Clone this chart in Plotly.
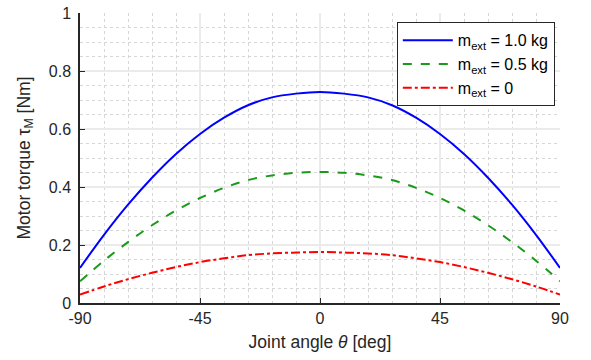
import plotly.graph_objects as go

# Joint angle samples (deg)
theta = [-90, -81, -72, -63, -54, -45, -36, -27, -18, -9, 0,
         9, 18, 27, 36, 45, 54, 63, 72, 81, 90]

# Motor torque (Nm)
tau_1kg = [0.121, 0.235, 0.339, 0.432, 0.514, 0.583, 0.639, 0.682, 0.709, 0.722, 0.728,
           0.722, 0.709, 0.682, 0.639, 0.583, 0.514, 0.432, 0.339, 0.235, 0.121]
tau_05kg = [0.075, 0.146, 0.210, 0.268, 0.319, 0.362, 0.397, 0.424, 0.440, 0.449, 0.452,
            0.449, 0.440, 0.424, 0.397, 0.362, 0.319, 0.268, 0.210, 0.146, 0.075]
tau_0 = [0.029, 0.057, 0.082, 0.104, 0.124, 0.141, 0.154, 0.165, 0.171, 0.174, 0.176,
         0.174, 0.171, 0.165, 0.154, 0.141, 0.124, 0.104, 0.082, 0.057, 0.029]

series_names = ["m<sub>ext</sub> = 1.0 kg", "m<sub>ext</sub> = 0.5 kg", "m<sub>ext</sub> = 0"]
x_tickvals = [-90, -45, 0, 45, 90]
x_ticktext = ["-90", "-45", "0", "45", "90"]
y_tickvals = [0, 0.2, 0.4, 0.6, 0.8, 1.0]
y_ticktext = ["0", "0.2", "0.4", "0.6", "0.8", "1"]

FONT = "Liberation Sans, Arial, Helvetica, sans-serif"
AX = "#262626"

fig = go.Figure()
fig.add_trace(go.Scatter(x=theta, y=tau_1kg, mode="lines", name=series_names[0],
                         line=dict(color="#0000ff", width=2, shape="spline", smoothing=1)))
fig.add_trace(go.Scatter(x=theta, y=tau_05kg, mode="lines", name=series_names[1],
                         line=dict(color="#1a9a1a", width=2, dash="dash", shape="spline", smoothing=1)))
fig.add_trace(go.Scatter(x=theta, y=tau_0, mode="lines", name=series_names[2],
                         line=dict(color="#ff0000", width=2, dash="dashdot", shape="spline", smoothing=1)))

fig.update_layout(
    width=591, height=360,
    margin=dict(l=80, r=31, t=13, b=57, autoexpand=False),
    paper_bgcolor="white", plot_bgcolor="white",
    font=dict(family=FONT, size=16, color=AX),
    legend=dict(x=0.66, y=0.968, xanchor="left", yanchor="top",
                bgcolor="white", bordercolor=AX, borderwidth=1,
                font=dict(family=FONT, size=16, color="black"),
                itemwidth=50, tracegroupgap=0),
    showlegend=True,
)

fig.update_xaxes(
    range=[-90, 90], tickvals=x_tickvals, ticktext=x_ticktext, automargin=False,
    showline=True, linecolor=AX, linewidth=1.5, mirror=False,
    ticks="inside", ticklen=5, tickcolor=AX, tickwidth=1,
    showgrid=True, gridcolor="#ebebeb", gridwidth=1.5, zeroline=False,
    minor=dict(dtick=9, tick0=0, showgrid=True, gridcolor="#d6d6d6", griddash="dot", gridwidth=1),
    tickfont=dict(family=FONT, size=16, color=AX),
    title=dict(text="Joint angle <i>θ</i> [deg]", font=dict(family=FONT, size=17.5, color=AX), standoff=10),
)
fig.update_yaxes(
    range=[0, 1], tickvals=y_tickvals, ticktext=y_ticktext, automargin=False,
    showline=True, linecolor=AX, linewidth=1.5, mirror=False,
    ticks="inside", ticklen=5, tickcolor=AX, tickwidth=1,
    showgrid=True, gridcolor="#ebebeb", gridwidth=1.5, zeroline=False,
    minor=dict(dtick=0.05, tick0=0, showgrid=True, gridcolor="#d6d6d6", griddash="dot", gridwidth=1),
    tickfont=dict(family=FONT, size=16, color=AX), ticklabelstandoff=4,
    title=dict(text="Motor torque τ<sub>M</sub> [Nm]", font=dict(family=FONT, size=17.5, color=AX), standoff=14),
)

fig.write_html("out.html")
